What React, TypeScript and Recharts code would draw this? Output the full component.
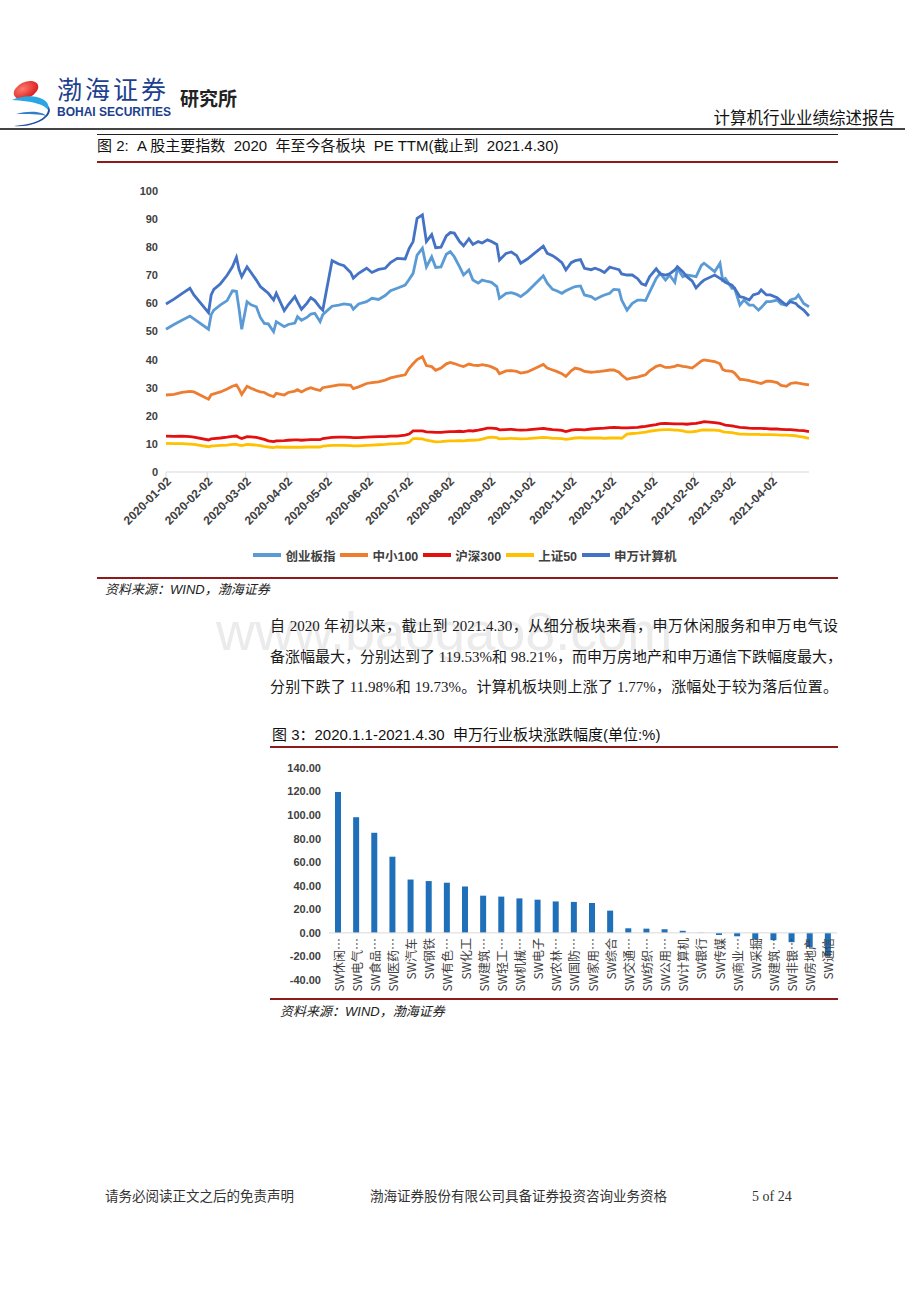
import React from 'react';
import { LineChart, Line, XAxis, YAxis, Legend, BarChart, Bar, ReferenceLine } from 'recharts';

// 图2: PE TTM by index, 2020-01-02 .. 2021-04-30
const dates = [
  '2020-01-02', '2020-01-08', '2020-01-14', '2020-01-20', '2020-01-23', '2020-02-03', '2020-02-05', '2020-02-07',
  '2020-02-12', '2020-02-17', '2020-02-21', '2020-02-24', '2020-02-26', '2020-02-28', '2020-03-03', '2020-03-06',
  '2020-03-10', '2020-03-13', '2020-03-16', '2020-03-19', '2020-03-23', '2020-03-25', '2020-03-31', '2020-04-03',
  '2020-04-08', '2020-04-10', '2020-04-13', '2020-04-17', '2020-04-20', '2020-04-23', '2020-04-27', '2020-04-29',
  '2020-05-06', '2020-05-11', '2020-05-15', '2020-05-20', '2020-05-22', '2020-05-26', '2020-06-01', '2020-06-05',
  '2020-06-10', '2020-06-15', '2020-06-19', '2020-06-24', '2020-06-30', '2020-07-03', '2020-07-06', '2020-07-09',
  '2020-07-13', '2020-07-16', '2020-07-20', '2020-07-23', '2020-07-27', '2020-07-31', '2020-08-03', '2020-08-06',
  '2020-08-10', '2020-08-13', '2020-08-17', '2020-08-20', '2020-08-24', '2020-08-27', '2020-08-31', '2020-09-03',
  '2020-09-07', '2020-09-09', '2020-09-14', '2020-09-18', '2020-09-22', '2020-09-25', '2020-09-30', '2020-10-12',
  '2020-10-15', '2020-10-19', '2020-10-22', '2020-10-26', '2020-10-29', '2020-11-02', '2020-11-05', '2020-11-09',
  '2020-11-12', '2020-11-17', '2020-11-20', '2020-11-24', '2020-11-27', '2020-12-01', '2020-12-04', '2020-12-08',
  '2020-12-10', '2020-12-14', '2020-12-18', '2020-12-22', '2020-12-25', '2020-12-28', '2020-12-31', '2021-01-05',
  '2021-01-08', '2021-01-12', '2021-01-15', '2021-01-19', '2021-01-21', '2021-01-25', '2021-01-28', '2021-02-01',
  '2021-02-04', '2021-02-08', '2021-02-10', '2021-02-18', '2021-02-22', '2021-02-24', '2021-02-26', '2021-03-03',
  '2021-03-05', '2021-03-09', '2021-03-12', '2021-03-16', '2021-03-19', '2021-03-23', '2021-03-25', '2021-03-29',
  '2021-04-01', '2021-04-06', '2021-04-09', '2021-04-13', '2021-04-16', '2021-04-20', '2021-04-22', '2021-04-26',
  '2021-04-30',
];

const cybPe = [
  50.8, 52.5, 54.0, 55.5, 54.5, 50.8, 56.0, 57.6, 59.5, 61.0, 64.5, 64.3, 58.0, 50.8, 60.6, 59.5,
  58.8, 55.0, 52.9, 52.7, 49.9, 53.5, 51.7, 52.5, 53.0, 55.3, 54.0, 55.0, 56.2, 56.5, 53.5, 56.0,
  59.0, 59.4, 59.8, 59.5, 57.9, 59.8, 60.6, 61.8, 61.4, 62.8, 64.5, 65.4, 66.5, 68.5, 70.7, 77.2,
  79.6, 73.0, 76.6, 72.8, 73.0, 77.5, 78.4, 76.6, 73.0, 70.1, 71.9, 68.3, 67.2, 68.3, 67.8, 67.5,
  66.0, 61.8, 63.6, 63.8, 63.2, 62.4, 64.2, 69.8, 67.2, 65.0, 64.5, 63.6, 64.5, 65.4, 66.0, 66.2,
  63.0, 62.4, 61.4, 62.4, 63.0, 63.6, 65.0, 64.8, 61.2, 57.6, 60.0, 61.2, 61.2, 61.0, 64.0, 68.9,
  70.7, 68.3, 70.1, 67.5, 72.5, 69.5, 70.1, 69.8, 69.5, 73.5, 74.3, 71.3, 74.3, 68.3, 68.9, 65.4,
  65.4, 59.4, 61.2, 59.4, 59.4, 57.6, 58.5, 60.6, 60.6, 61.2, 59.8, 59.4, 61.2, 61.8, 63.0, 60.0,
  58.8,
];

const zx100Pe = [
  27.4, 27.6, 28.3, 28.7, 28.5, 25.9, 27.5, 27.8, 28.5, 29.5, 30.5, 31.0, 29.5, 27.6, 30.5, 29.8,
  29.0, 28.5, 28.3, 27.5, 26.8, 28.0, 27.4, 28.3, 28.8, 29.3, 28.5, 29.5, 30.0, 29.5, 29.0, 30.0,
  30.6, 31.0, 31.0, 30.8, 29.7, 30.3, 31.5, 31.8, 32.1, 32.7, 33.5, 34.0, 34.6, 36.9, 38.5, 40.0,
  41.0, 37.9, 37.5, 36.2, 37.0, 38.5, 39.0, 38.6, 37.9, 37.5, 38.4, 38.0, 37.9, 38.2, 37.9, 37.4,
  36.5, 35.0, 36.0, 36.1, 35.8, 35.2, 35.6, 38.3, 37.0, 36.3, 35.8, 35.0, 34.0, 36.0, 37.0, 36.5,
  35.8, 35.5, 35.6, 35.8, 36.0, 36.3, 36.3, 35.5, 34.5, 33.0, 33.5, 33.8, 34.2, 34.6, 36.0, 37.6,
  38.0, 37.2, 37.2, 37.6, 38.0, 37.6, 37.4, 37.0, 38.0, 39.5, 39.9, 39.3, 38.5, 36.5, 36.1, 35.8,
  35.2, 33.0, 32.9, 32.5, 32.2, 31.7, 31.5, 32.3, 32.3, 31.8, 30.8, 30.5, 31.5, 31.8, 31.6, 31.3,
  31.0,
];

const hs300Pe = [
  12.8, 12.7, 12.8, 12.6, 12.4, 11.4, 11.8, 11.9, 12.1, 12.4, 12.7, 12.8, 12.3, 11.9, 12.6, 12.5,
  12.3, 12.0, 11.6, 11.1, 10.8, 11.1, 11.2, 11.3, 11.4, 11.4, 11.3, 11.4, 11.5, 11.5, 11.5, 11.9,
  12.3, 12.4, 12.4, 12.3, 12.2, 12.2, 12.4, 12.5, 12.6, 12.6, 12.8, 12.8, 13.1, 13.5, 14.6, 14.6,
  14.6, 14.3, 14.2, 14.1, 14.1, 14.3, 14.4, 14.4, 14.5, 14.4, 14.7, 14.6, 14.9, 15.2, 15.6, 15.6,
  15.4, 15.0, 15.1, 15.2, 15.0, 14.9, 15.0, 15.5, 15.3, 15.1, 15.0, 14.8, 14.4, 14.9, 15.1, 15.1,
  15.0, 15.3, 15.4, 15.5, 15.6, 15.8, 15.9, 15.8, 15.7, 15.7, 15.8, 15.9, 16.1, 16.2, 16.5, 16.9,
  17.2, 17.3, 17.2, 17.1, 17.1, 17.1, 17.0, 17.2, 17.3, 17.7, 17.9, 17.6, 17.3, 17.0, 16.7, 16.4,
  16.2, 15.9, 15.8, 15.6, 15.5, 15.5, 15.5, 15.4, 15.3, 15.3, 15.2, 15.1, 15.1, 14.9, 14.8, 14.7,
  14.4,
];

const sz50Pe = [
  10.2, 10.1, 10.1, 9.9, 9.8, 9.0, 9.2, 9.3, 9.5, 9.6, 9.8, 9.8, 9.6, 9.4, 9.8, 9.7,
  9.6, 9.4, 9.1, 8.9, 8.7, 8.9, 8.8, 8.8, 8.8, 8.8, 8.8, 8.9, 8.9, 8.9, 8.9, 9.2,
  9.5, 9.5, 9.5, 9.4, 9.3, 9.3, 9.5, 9.6, 9.7, 9.8, 10.0, 10.1, 10.3, 10.6, 11.9, 11.9,
  11.8, 11.3, 11.0, 10.7, 10.8, 11.0, 11.1, 11.1, 11.2, 11.1, 11.3, 11.3, 11.4, 11.7, 12.2, 12.4,
  12.2, 11.8, 11.9, 12.0, 11.9, 11.8, 11.9, 12.3, 12.2, 12.0, 12.0, 11.9, 11.6, 11.9, 12.1, 12.2,
  12.1, 12.1, 12.1, 12.1, 12.0, 12.1, 12.1, 12.1, 12.0, 13.5, 13.7, 13.8, 14.0, 14.2, 14.5, 14.8,
  15.0, 15.1, 15.1, 14.9, 14.9, 14.6, 14.3, 14.3, 14.5, 14.9, 15.0, 14.9, 14.7, 14.4, 14.2, 14.0,
  13.8, 13.5, 13.5, 13.4, 13.4, 13.4, 13.3, 13.3, 13.3, 13.2, 13.1, 13.1, 13.0, 12.9, 12.7, 12.4,
  12.0,
];

const swjsjPe = [
  59.8, 61.5, 63.5, 65.4, 63.0, 56.7, 63.0, 65.0, 67.0, 70.0, 73.0, 76.4, 72.0, 69.5, 73.0, 71.0,
  68.3, 66.0, 64.8, 63.6, 61.2, 63.6, 57.4, 59.5, 62.4, 60.5, 57.9, 60.0, 62.0, 61.0, 58.5, 57.6,
  75.2, 74.0, 73.4, 71.0, 69.0, 70.7, 72.5, 71.0, 72.1, 72.5, 74.5, 76.0, 75.8, 79.5, 82.0, 90.3,
  91.5, 82.0, 84.5, 79.8, 80.0, 84.0, 85.2, 85.0, 82.0, 80.5, 83.0, 81.0, 82.0, 81.5, 82.6, 82.0,
  81.0, 75.4, 77.8, 78.3, 77.0, 74.3, 75.8, 80.4, 77.8, 77.0, 76.0, 74.5, 71.9, 74.5, 75.2, 75.6,
  72.5, 72.0, 72.5, 71.8, 71.0, 72.9, 72.5, 72.0, 70.5, 70.1, 70.1, 68.8, 67.0, 66.5, 69.5, 72.3,
  70.5, 70.1, 70.5, 71.9, 73.0, 71.3, 69.5, 68.0, 65.5, 67.5, 68.3, 70.1, 68.9, 68.3, 67.5, 66.5,
  65.4, 62.4, 62.1, 61.2, 63.0, 63.6, 64.8, 63.0, 63.0, 62.0, 60.8, 59.4, 60.6, 60.0, 59.0, 57.6,
  55.5,
];

const monthTicks = [
  '2020-01-02', '2020-02-02', '2020-03-02', '2020-04-02', '2020-05-02', '2020-06-02', '2020-07-02', '2020-08-02',
  '2020-09-02', '2020-10-02', '2020-11-02', '2020-12-02', '2021-01-02', '2021-02-02', '2021-03-02', '2021-04-02',
];
const peTicks = [0, 10, 20, 30, 40, 50, 60, 70, 80, 90, 100];

// 图3: 申万行业涨跌幅 (%)
const sectors = [
  'SW休闲服务', 'SW电气设备', 'SW食品饮料', 'SW医药生物', 'SW汽车', 'SW钢铁', 'SW有色金属', 'SW化工',
  'SW建筑材料', 'SW轻工制造', 'SW机械设备', 'SW电子', 'SW农林牧渔', 'SW国防军工', 'SW家用电器', 'SW综合',
  'SW交通运输', 'SW纺织服装', 'SW公用事业', 'SW计算机', 'SW银行', 'SW传媒', 'SW商业贸易', 'SW采掘',
  'SW建筑装饰', 'SW非银金融', 'SW房地产', 'SW通信',
];
const sectorChange = [
  119.53, 98.21, 85.0, 64.7, 45.3, 44.0, 42.6, 39.4,
  31.6, 30.8, 29.3, 28.2, 26.7, 26.3, 25.4, 18.9,
  3.9, 3.6, 3.1, 1.77, 0.2, -1.8, -2.9, -5.6,
  -6.2, -7.9, -11.98, -19.73,
];
const changeTicks = [-40, -20, 0, 20, 40, 60, 80, 100, 120, 140];

const series = [
  { key: 'cyb', name: '创业板指', color: '#5B9BD5', values: cybPe },
  { key: 'zx100', name: '中小100', color: '#ED7D31', values: zx100Pe },
  { key: 'hs300', name: '沪深300', color: '#E3100F', values: hs300Pe },
  { key: 'sz50', name: '上证50', color: '#FFC000', values: sz50Pe },
  { key: 'swjsj', name: '申万计算机', color: '#4472C4', values: swjsjPe },
];

const toTime = (d: string) => Date.parse(d);
const peData = dates.map((d, i) => {
  const row: Record<string, number> = { t: toTime(d) };
  series.forEach((s) => { row[s.key] = s.values[i]; });
  return row;
});
const sectorData = sectors.map((name, i) => ({ name, value: sectorChange[i] }));

const CJK = "'Noto Sans CJK SC', sans-serif";
const SANS = "'Liberation Sans', 'Noto Sans CJK SC', sans-serif";
const SERIF = "'Liberation Serif', 'Noto Sans CJK SC', serif";
const DARK_RED = '#8E1B1B';

const DateTick = (props: any) => {
  const { x, y, payload } = props;
  const label = new Date(payload.value).toISOString().slice(0, 10);
  return (
    <g transform={`translate(${x + 3},${y})`}>
      <text transform="rotate(-45)" textAnchor="end" dy="0.35em" fontSize={12} fontWeight="bold" fill="#404040" fontFamily={SANS}>
        {label}
      </text>
    </g>
  );
};

const PeLegend = () => (
  <div style={{ display: 'flex', justifyContent: 'center', alignItems: 'center', height: 20, fontFamily: SANS, fontSize: 12.5, fontWeight: 'bold', color: '#404040' }}>
    {series.map((s) => (
      <div key={s.key} style={{ display: 'flex', alignItems: 'center', marginRight: 5 }}>
        <span style={{ display: 'inline-block', width: 28, height: 4, background: s.color, marginRight: 4 }} />
        <span>{s.name}</span>
      </div>
    ))}
  </div>
);

const PeChart = () => (
  <LineChart width={720} height={400} data={peData} margin={{ top: 16, right: 11, bottom: 10, left: 26 }}>
    <XAxis
      dataKey="t"
      type="number"
      domain={[toTime('2020-01-02'), toTime('2021-04-30')]}
      ticks={monthTicks.map(toTime)}
      interval={0}
      height={73}
      stroke="#D9D9D9"
      tickSize={5}
      tick={<DateTick />}
    />
    <YAxis
      domain={[0, 100]}
      ticks={peTicks}
      width={40}
      axisLine={false}
      tickLine={false}
      tick={{ fontSize: 11, fontWeight: 'bold', fill: '#404040', fontFamily: SANS }}
    />
    <Legend verticalAlign="bottom" height={20} content={() => <PeLegend />} />
    {series.map((s) => (
      <Line
        key={s.key}
        dataKey={s.key}
        name={s.name}
        stroke={s.color}
        strokeWidth={2.8}
        dot={false}
        type="linear"
        isAnimationActive={false}
      />
    ))}
  </LineChart>
);

// bar chart geometry: plot spans 140 -> -40
const BAR_TOP = 13;
const BAR_PLOT_H = 212;
const ZERO_Y = BAR_TOP + (BAR_PLOT_H * 140) / 180;

const SectorTick = (props: any) => {
  const { x, payload } = props;
  const name: string = payload.value;
  const label = name.length > 5 ? name.slice(0, 4) + '…' : name;
  return (
    <text
      transform={`translate(${x},${ZERO_Y + 5}) rotate(-90)`}
      textAnchor="end"
      dominantBaseline="central"
      fontSize={12}
      fill="#404040"
      fontFamily={CJK}
    >
      {label}
    </text>
  );
};

const SectorChart = () => (
  <BarChart width={570} height={240} data={sectorData} margin={{ top: BAR_TOP, right: 3, bottom: 0, left: 9 }}>
    <XAxis dataKey="name" interval={0} height={15} axisLine={false} tickLine={false} tick={<SectorTick />} />
    <YAxis
      domain={[-40, 140]}
      ticks={changeTicks}
      width={50}
      axisLine={false}
      tickLine={false}
      tickFormatter={(v: number) => v.toFixed(2)}
      tick={{ fontSize: 11, fontWeight: 'bold', fill: '#404040', fontFamily: SANS }}
    />
    <ReferenceLine y={0} stroke="#D9D9D9" />
    <Bar dataKey="value" fill="#1F70B8" barSize={6} isAnimationActive={false} />
  </BarChart>
);

const abs = (left: number, top: number, extra: React.CSSProperties = {}): React.CSSProperties => ({
  position: 'absolute', left, top, whiteSpace: 'nowrap', ...extra,
});

const paragraph = [
  '自 2020 年初以来，截止到 2021.4.30，从细分板块来看，申万休闲服务和申万电气设',
  '备涨幅最大，分别达到了 119.53%和 98.21%，而申万房地产和申万通信下跌幅度最大，',
  '分别下跌了 11.98%和 19.73%。计算机板块则上涨了 1.77%，涨幅处于较为落后位置。',
];

const Logo = () => (
  <svg width={60} height={60} style={abs(6, 70)}>
    <defs>
      <radialGradient id="ball" cx="40%" cy="35%" r="70%">
        <stop offset="0%" stopColor="#ff7a6b" />
        <stop offset="100%" stopColor="#d7191c" />
      </radialGradient>
    </defs>
    <ellipse cx={20} cy={20} rx={13} ry={8} transform="rotate(-25 20 20)" fill="url(#ball)" />
    <path d="M6 30 C24 22 46 28 42 40 C38 34 26 31 6 30 Z" fill="#2AA6E3" />
    <path d="M8 56 C32 58 50 44 42 36 C44 48 30 54 8 56 Z" fill="#1E4E9E" />
    <path d="M10 44 C24 40 38 42 40 46 C34 44 22 44 10 44 Z" fill="#2F80C8" />
  </svg>
);

export default function App() {
  return (
    <div style={{ position: 'absolute', left: 0, top: 0, width: 920, height: 1301, background: '#fff', fontFamily: SERIF, color: '#111' }}>
      {/* header */}
      <Logo />
      <div style={abs(57, 74, { fontSize: 25, letterSpacing: 3, color: '#1D3F8F', fontFamily: SERIF, lineHeight: '34px' })}>渤海证券</div>
      <div style={abs(57, 104, { fontSize: 12, fontWeight: 'bold', color: '#1D3F8F', fontFamily: SANS, lineHeight: '16px' })}>BOHAI SECURITIES</div>
      <div style={abs(180, 86, { fontSize: 19, fontWeight: 'bold', color: '#222', fontFamily: CJK, lineHeight: '24px' })}>研究所</div>
      <div style={{ position: 'absolute', right: 25, top: 106, fontSize: 16.5, fontFamily: CJK, lineHeight: '22px', color: '#111' }}>计算机行业业绩综述报告</div>
      <div style={abs(0, 128, { width: 905, height: 2, background: '#444' })} />

      {/* figure 2 */}
      <div style={abs(97, 134, { width: 741, height: 1, background: '#222' })} />
      <div style={abs(97, 136, { fontSize: 15, lineHeight: '20px', fontFamily: SANS })}>
        图 2:&nbsp; A 股主要指数&nbsp; 2020&nbsp; 年至今各板块&nbsp; PE TTM(截止到&nbsp; 2021.4.30)
      </div>
      <div style={abs(97, 161, { width: 741, height: 2, background: DARK_RED })} />
      <div style={abs(100, 175)}>
        <PeChart />
      </div>
      <div style={abs(97, 577, { width: 741, height: 2, background: DARK_RED })} />
      <div style={abs(105, 581, { fontSize: 13, fontStyle: 'italic', lineHeight: '18px', fontFamily: SANS, color: '#222' })}>资料来源：WIND，渤海证券</div>

      {/* watermark + paragraph */}
      <div style={abs(216, 598, { fontSize: 54, fontFamily: SANS, color: '#EBEBEB', lineHeight: '66px' })}>www.baogao8.com</div>
      {paragraph.map((line, i) => (
        <div
          key={i}
          style={abs(270, 616 + i * 30.5, {
            width: 568, fontSize: 15, lineHeight: '20px', textAlign: 'justify', textAlignLast: 'justify', color: '#1a1a1a',
          })}
        >
          {line}
        </div>
      ))}

      {/* figure 3 */}
      <div style={abs(272, 725, { fontSize: 15, lineHeight: '20px', fontFamily: SANS })}>
        图 3：2020.1.1-2021.4.30&nbsp; 申万行业板块涨跌幅度(单位:%)
      </div>
      <div style={abs(270, 746, { width: 568, height: 2, background: DARK_RED })} />
      <div style={abs(270, 755)}>
        <SectorChart />
      </div>
      <div style={abs(270, 998, { width: 568, height: 2, background: DARK_RED })} />
      <div style={abs(280, 1003, { fontSize: 13, fontStyle: 'italic', lineHeight: '18px', fontFamily: SANS, color: '#222' })}>资料来源：WIND，渤海证券</div>

      {/* footer */}
      <div style={abs(105, 1187, { fontSize: 13.5, lineHeight: '20px', color: '#333' })}>请务必阅读正文之后的免责声明</div>
      <div style={abs(370, 1187, { fontSize: 13.5, lineHeight: '20px', color: '#333' })}>渤海证券股份有限公司具备证券投资咨询业务资格</div>
      <div style={abs(752, 1187, { fontSize: 14, lineHeight: '20px', color: '#333' })}>5 of 24</div>
    </div>
  );
}
